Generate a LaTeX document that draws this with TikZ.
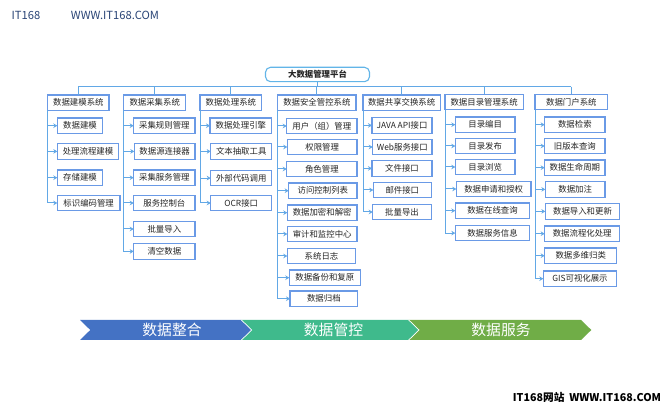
\documentclass[tikz,border=0pt]{standalone}
\usepackage{fontspec}
\setmainfont{Noto Sans CJK SC}
\usetikzlibrary{arrows.meta, positioning}
\definecolor{cborder}{HTML}{6A9AE6}
\definecolor{clink}{HTML}{62A8E6}
\definecolor{ctop}{HTML}{62B5E8}
\definecolor{ctext}{HTML}{262626}
\definecolor{cblue}{HTML}{4472C4}
\definecolor{cgreen}{HTML}{3FBA8C}
\definecolor{colive}{HTML}{70AD47}
\tikzset{
  every picture/.style={x=1pt, y=-1pt},
  sysbox/.style={draw=cborder, fill=white, line width=1.1pt, inner sep=0pt, outer sep=0pt, minimum height=15.4pt, text=ctext, font=\fontsize{8.4}{10}\selectfont},
  topbox/.style={sysbox, draw=ctop, rounded corners=5pt, minimum height=14.4pt, font=\fontsize{8.4}{10}\selectfont\bfseries},
  link/.style={draw=clink, line width=1pt},
  linkarrow/.style={link, -{Stealth[length=4pt, width=4.6pt]}},
  bandlabel/.style={text=white, font=\fontsize{14.8}{16}\selectfont},
  wmark/.style={text=#1, font=\fontsize{11.2}{13}\selectfont},
}

\begin{document}
\begin{tikzpicture}
  \useasboundingbox (0,0) rectangle (670,411);
  \fill[white] (0,0) rectangle (670,411);
  % marks in the corners
  \node[wmark=cblue!60!black] (markA) at (26,15) {IT168};
  \node[wmark=cblue!60!black] (markB) at (115,15) {WWW.IT168.COM};
  \node[text=black, font=\fontsize{10.7}{12}\selectfont\bfseries] (markC) at (587,397) {IT168网站\ \ WWW.IT168.COM};
  % top node and the bus
  \node[topbox, minimum width=104pt] (top) at (317.5,74.5) {大数据管理平台};
  \coordinate (busL) at (78.3,86.7);
  \coordinate (busR) at (571,86.7);
  \draw[link] (busL) -- (busR);
  % system headers
  \foreach \nm/\xa/\xb/\ya/\t in {
    hA/47.7/109/95/数据建模系统,
    hB/123.7/185.7/95/数据采集系统,
    hC/200/261.7/95/数据处理系统,
    hD/277.7/356/95/数据安全管控系统,
    hE/363/440.3/95/数据共享交换系统,
    hF/445/523.3/94.3/数据目录管理系统,
    hG/535/607.7/94.3/数据门户系统}
    \node[sysbox, minimum width={\xb-\xa}] (\nm) at ({(\xa+\xb)/2},\ya+7.7) {\t};
  \foreach \nm in {hA,hB,hC,hD,hE,hF,hG}
    \draw[link] (\nm.north |- busL) -- (\nm.north);
  \draw[link] (top.south) -- (top.south |- busL);
  % boxes under the headers
  \foreach \hd/\nm/\xa/\xb/\ya/\t in {
    hA/aA/57.3/102.7/118/数据建模,
    hA/aB/57.3/118.7/143.7/处理流程建模,
    hA/aC/57.3/102.7/170/存储建模,
    hA/aD/57.3/120/195.3/标识编码管理,
    hB/bA/133.7/195/118/采集规则管理,
    hB/bB/134.3/195/143.7/数据源连接器,
    hB/bC/133.7/195/170/采集服务管理,
    hB/bD/133.7/195/195.3/服务控制台,
    hB/bE/133.7/195/221.3/批量导入,
    hB/bF/133.7/195/243.7/清空数据,
    hC/cA/210/271.7/118/数据处理引擎,
    hC/cB/210.7/271.7/143.7/文本抽取工具,
    hC/cC/210.7/271.7/170.4/外部代码调用,
    hC/cD/210.7/271.7/195.3/OCR接口,
    hD/dA/286.7/357/118.3/用户（组）管理,
    hD/dB/287.3/357/139.3/权限管理,
    hD/dC/286.7/357/161.3/角色管理,
    hD/dD/288.7/357/183/访问控制列表,
    hD/dE/287.3/357/205/数据加密和解密,
    hD/dF/287.3/357/226.3/审计和监控中心,
    hD/dG/287.3/355.7/248.3/系统日志,
    hD/dH/289.3/360.3/270/数据备份和复原,
    hD/dI/290/357.7/291/数据归档,
    hE/eA/372/432/117.7/JAVA API接口,
    hE/eB/372.7/432/139.3/Web服务接口,
    hE/eC/372/432/160.7/文件接口,
    hE/eD/373.3/431.3/182.3/邮件接口,
    hE/eE/372.7/431.3/204.3/批量导出,
    hF/fA/455.3/515/117/目录编目,
    hF/fB/455.3/515/138.3/目录发布,
    hF/fC/455.3/515/159.3/目录浏览,
    hF/fD/456.3/531/181.3/数据申请和授权,
    hF/fE/455.3/529.7/203/数据在线查询,
    hF/fF/455.3/529.7/225.4/数据服务信息,
    hG/gA/544.7/605/117/数据检索,
    hG/gB/544.7/605/138.3/旧版本查询,
    hG/gC/544.7/605/160/数据生命周期,
    hG/gD/545.3/605/181.7/数据加注,
    hG/gE/545.3/619.7/203.7/数据导入和更新,
    hG/gF/544.7/619.7/226/数据流程化处理,
    hG/gG/544.7/616.7/248/数据多维归类,
    hG/gH/543.3/616.7/271/GIS可视化展示} {
    \node[sysbox, minimum width={\xb-\xa}] (\nm) at ({(\xa+\xb)/2},\ya+7.7) {\t};
    \draw[linkarrow] (\hd.south west) |- (\nm.west);
  }
  % bottom band
  \foreach \xa/\xb/\c in {80/241.4/cblue, 241.4/408.7/cgreen, 408.7/581/colive}
    \fill[\c] (\xa,320) -- (\xb,320) -- (\xb+10.3,330) -- (\xb,340) -- (\xa,340) -- (\xa+10.3,330) -- cycle;
  \foreach \xb in {241.4,408.7}
    \draw[white, line width=0.7pt] (\xb,320) -- (\xb+10.3,330) -- (\xb,340);
  \node[bandlabel] (bandA) at (172,329.5) {数据整合};
  \node[bandlabel] (bandB) at (333.5,329.5) {数据管控};
  \node[bandlabel] (bandC) at (501,329.5) {数据服务};
\end{tikzpicture}
\end{document}
